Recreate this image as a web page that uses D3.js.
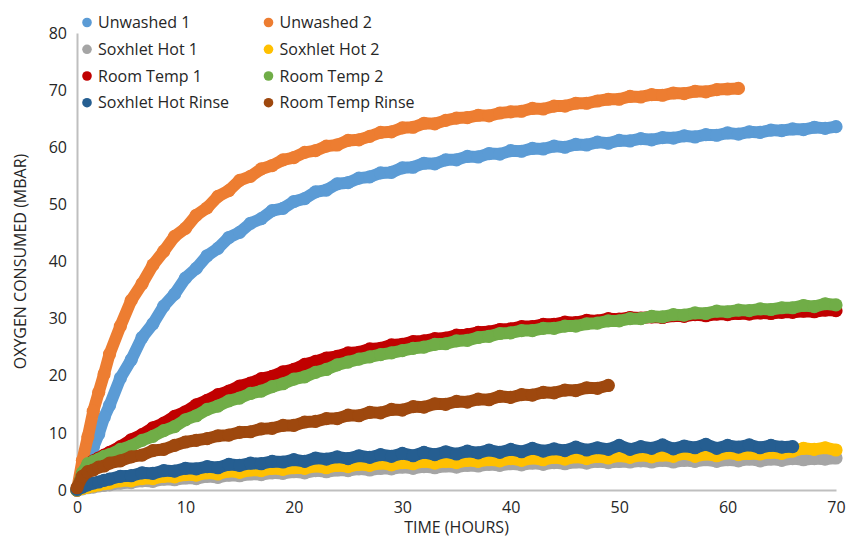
<!DOCTYPE html>
<html>
<head>
<meta charset="utf-8">
<script src="https://cdn.jsdelivr.net/npm/d3@7"></script>
<style>
  html, body { margin: 0; padding: 0; background: #fff; }
  svg { display: block; font-family: "Open Sans", "Liberation Sans", sans-serif; }
</style>
</head>
<body>
<svg id="chart" width="855" height="540"></svg>
<script>
// Elapsed time (hours) for each reading
const hours = [0, 0.5, 1, 1.5, 2, 2.5, 3,
  4, 5, 6, 7, 8, 9, 10, 11, 12, 13, 14, 15, 16, 17, 18, 19, 20,
  21, 22, 23, 24, 25, 26, 27, 28, 29, 30, 31, 32, 33, 34, 35, 36, 37,
  38, 39, 40, 41, 42, 43, 44, 45, 46, 47, 48, 49, 50, 51, 52, 53, 54,
  55, 56, 57, 58, 59, 60, 61, 62, 63, 64, 65, 66, 67, 68, 69, 70];

// Oxygen consumed (mbar), one array per sample, aligned with `hours`
const unwashed1 = [0, 2.1, 4.4, 7.5, 9.8, 12.7, 14.8,
  19.6, 22.8, 26.7, 29.1, 32.2, 34.3, 37.1, 38.8, 41.0, 42.3, 44.2, 45.1, 46.7, 47.5, 48.9, 49.3, 50.5,
  51.0, 52.2, 52.5, 53.6, 53.8, 54.6, 54.8, 55.5, 55.6, 56.4, 56.5, 57.2, 57.1, 57.8, 57.8, 58.4, 58.3,
  58.9, 58.8, 59.4, 59.3, 59.8, 59.7, 60.2, 60.0, 60.5, 60.4, 60.9, 60.7, 61.2, 61.1, 61.5, 61.3, 61.7,
  61.6, 62.0, 61.8, 62.2, 62.1, 62.5, 62.3, 62.7, 62.6, 63.0, 62.9, 63.2, 63.1, 63.5, 63.3, 63.6];

const unwashed2 = [0, 5.2, 9.3, 13.8, 17.1, 20.3, 23.8,
  28.7, 33.2, 36.1, 39.4, 41.8, 44.4, 45.8, 48.1, 49.4, 51.4, 52.4, 54.2, 54.9, 56.2, 56.8, 57.8, 58.2,
  59.1, 59.4, 60.2, 60.4, 61.2, 61.3, 61.9, 62.6, 62.7, 63.4, 63.5, 64.2, 64.1, 64.7, 65.1, 65.2, 65.6,
  65.5, 66.0, 66.2, 66.3, 66.8, 66.7, 67.2, 67.2, 67.7, 67.7, 68.1, 68.4, 68.4, 68.9, 68.8, 69.2, 69.1,
  69.5, 69.4, 69.8, 69.7, 70.1, 70.2, 70.3];

const soxhletHot1 = [0, 0.2, 0.4, 0.5, 0.7, 0.8, 0.9,
  1.2, 1.3, 1.6, 1.5, 1.9, 1.8, 2.1, 2.0, 2.4, 2.2, 2.6, 2.5, 2.8, 2.7, 3.0, 2.9, 3.2,
  3.0, 3.4, 3.2, 3.5, 3.4, 3.7, 3.5, 3.8, 3.7, 4.0, 3.8, 4.1, 3.9, 4.2, 4.0, 4.3, 4.2,
  4.5, 4.3, 4.6, 4.4, 4.7, 4.5, 4.8, 4.6, 4.9, 4.7, 5.0, 4.8, 5.0, 4.9, 5.1, 4.9, 5.2,
  4.9, 5.2, 5.0, 5.3, 5.0, 5.3, 5.1, 5.4, 5.1, 5.4, 5.2, 5.5, 5.3, 5.5, 5.4, 5.6];

const soxhletHot2 = [0, 0.3, 0.5, 0.7, 0.9, 1.1, 1.2,
  1.6, 1.6, 2.0, 2.0, 2.4, 2.3, 2.7, 2.6, 3.0, 2.8, 3.3, 3.1, 3.5, 3.4, 3.8, 3.6, 3.9,
  3.8, 4.2, 3.9, 4.3, 4.1, 4.5, 4.3, 4.7, 4.4, 4.8, 4.6, 5.0, 4.7, 5.0, 4.8, 5.2, 5.0,
  5.3, 5.1, 5.5, 5.2, 5.6, 5.3, 5.7, 5.4, 5.8, 5.5, 5.9, 5.6, 6.0, 5.7, 6.1, 5.8, 6.1,
  5.9, 6.4, 5.9, 6.3, 6.0, 6.5, 6.2, 6.4, 6.3, 6.6, 6.4, 6.8, 7.3, 7.1, 7.4, 7.0];

const roomTemp1 = [0, 2.8, 4.3, 5.1, 5.6, 6.1, 6.6,
  7.6, 8.8, 9.7, 10.9, 11.7, 12.9, 13.7, 14.9, 15.7, 16.7, 17.3, 18.2, 18.7, 19.5, 19.9, 20.7, 21.1,
  22.0, 22.5, 23.1, 23.4, 24.0, 24.1, 24.7, 24.8, 25.4, 25.5, 26.0, 26.1, 26.5, 26.6, 27.1, 27.2, 27.6,
  27.7, 28.1, 28.2, 28.6, 28.6, 29.0, 29.0, 29.4, 29.3, 29.7, 29.6, 30.0, 29.9, 30.2, 30.1, 30.3, 30.2,
  30.5, 30.4, 30.7, 30.5, 30.8, 30.7, 30.9, 30.8, 31.0, 30.9, 31.1, 31.1, 31.3, 31.2, 31.5, 31.4];

const roomTemp2 = [0, 3.0, 4.6, 5.0, 5.4, 5.9, 6.2,
  7.1, 7.7, 8.7, 9.4, 10.4, 11.1, 12.3, 13.0, 14.1, 14.7, 15.6, 16.1, 16.9, 17.3, 18.1, 18.6, 19.4,
  19.8, 20.6, 21.1, 21.9, 22.4, 22.9, 23.3, 23.7, 24.0, 24.4, 24.8, 25.0, 25.5, 25.6, 26.1, 26.2, 26.7,
  26.9, 27.4, 27.5, 27.9, 27.9, 28.3, 28.3, 28.7, 28.7, 29.1, 29.2, 29.6, 29.6, 30.0, 30.0, 30.4, 30.3,
  30.7, 30.6, 31.0, 30.9, 31.3, 31.2, 31.5, 31.4, 31.7, 31.6, 31.9, 31.9, 32.3, 32.1, 32.6, 32.4];

const soxhletHotRinse = [0.1, 0.5, 0.9, 1.2, 1.4, 1.7, 1.9,
  2.4, 2.5, 3.0, 2.9, 3.4, 3.3, 3.8, 3.7, 4.1, 3.9, 4.5, 4.3, 4.7, 4.6, 5.0, 4.9, 5.3,
  5.0, 5.6, 5.4, 5.8, 5.5, 6.0, 5.7, 6.2, 5.9, 6.4, 6.0, 6.6, 6.2, 6.7, 6.3, 6.8, 6.5,
  7.0, 6.6, 7.1, 6.7, 7.3, 6.8, 7.2, 6.9, 7.5, 7.0, 7.4, 7.1, 7.8, 7.1, 7.6, 7.3, 7.9,
  7.2, 7.7, 7.4, 8.0, 7.3, 7.8, 7.5, 7.9, 7.4, 7.8, 7.5, 7.6];

const roomTempRinse = [0.4, 2.4, 3.2, 3.5, 4.0, 4.2, 4.7,
  5.1, 5.8, 6.1, 6.9, 7.1, 7.8, 8.4, 8.7, 9.0, 9.5, 9.6, 10.1, 10.2, 10.7, 10.8, 11.3, 11.3,
  11.9, 12.0, 12.5, 12.5, 13.1, 13.0, 13.6, 13.5, 14.1, 14.0, 14.6, 14.5, 15.1, 15.0, 15.5, 15.4, 15.9,
  15.8, 16.4, 16.2, 16.7, 16.6, 17.1, 17.0, 17.5, 17.4, 17.9, 17.8, 18.3];

const seriesNames = ["Unwashed 1", "Unwashed 2", "Soxhlet Hot 1", "Soxhlet Hot 2",
  "Room Temp 1", "Room Temp 2", "Soxhlet Hot Rinse", "Room Temp Rinse"];
const seriesValues = [unwashed1, unwashed2, soxhletHot1, soxhletHot2,
  roomTemp1, roomTemp2, soxhletHotRinse, roomTempRinse];
const seriesColors = ["#5B9BD5", "#ED7D31", "#A5A5A5", "#FFC000",
  "#C00000", "#70AD47", "#255E91", "#9E480E"];

const xTicks = [0, 10, 20, 30, 40, 50, 60, 70];
const yTicks = [0, 10, 20, 30, 40, 50, 60, 70, 80];
const xTitle = "TIME (HOURS)";
const yTitle = "OXYGEN CONSUMED (MBAR)";

const svg = d3.select("#chart");
const plot = { left: 77, right: 836, top: 33, bottom: 490 };

const x = d3.scaleLinear().domain([0, 70]).range([plot.left, plot.right]);
const y = d3.scaleLinear().domain([0, 80]).range([plot.bottom, plot.top]);

const axisColor = "#BFBFBF";
const textColor = "#262626";

// Axes: plain grey lines with labels, no tick marks
const gx = svg.append("g")
  .attr("transform", `translate(0,${plot.bottom})`)
  .call(d3.axisBottom(x).tickValues(xTicks).tickSize(0).tickPadding(12).tickFormat(d3.format("d")));
const gy = svg.append("g")
  .attr("transform", `translate(${plot.left},0)`)
  .call(d3.axisLeft(y).tickValues(yTicks).tickSize(0).tickPadding(10).tickFormat(d3.format("d")));

[gx, gy].forEach(g => {
  g.select(".domain").attr("stroke", axisColor).attr("stroke-width", 2);
  g.selectAll(".tick text")
    .attr("fill", textColor)
    .style("font-size", "16px")
    .style("font-family", "'Open Sans', 'Liberation Sans', sans-serif");
});

// Series: a thick line with dot markers on every reading
const line = d3.line().x(d => x(d[0])).y(d => y(d[1]));
const seriesG = svg.append("g");
seriesValues.forEach((vals, i) => {
  const pts = vals.map((v, j) => [hours[j], v]);
  const g = seriesG.append("g");
  g.append("path")
    .attr("d", line(pts))
    .attr("fill", "none")
    .attr("stroke", seriesColors[i])
    .attr("stroke-width", 12)
    .attr("stroke-linejoin", "round")
    .attr("stroke-linecap", "round");
  g.selectAll("circle")
    .data(pts)
    .join("circle")
    .attr("cx", d => x(d[0]))
    .attr("cy", d => y(d[1]))
    .attr("r", 6.6)
    .attr("fill", seriesColors[i]);
});

// Legend: two columns, four rows
const legend = svg.append("g");
const legendCols = [87, 268.5];
const legendRows = [22.5, 49.3, 76, 102.7];
seriesNames.forEach((name, i) => {
  const cx = legendCols[i % 2];
  const cy = legendRows[Math.floor(i / 2)];
  legend.append("circle").attr("cx", cx).attr("cy", cy).attr("r", 4.8).attr("fill", seriesColors[i]);
  legend.append("text")
    .attr("x", cx + 11)
    .attr("y", cy)
    .attr("dy", "0.36em")
    .attr("fill", textColor)
    .style("font-size", "16px")
    .text(name);
});

// Axis titles
svg.append("text")
  .attr("x", (plot.left + plot.right) / 2)
  .attr("y", 533)
  .attr("text-anchor", "middle")
  .attr("fill", textColor)
  .style("font-size", "16px")
  .text(xTitle);
svg.append("text")
  .attr("transform", `translate(26,${(plot.top + plot.bottom) / 2}) rotate(-90)`)
  .attr("text-anchor", "middle")
  .attr("fill", textColor)
  .style("font-size", "16px")
  .text(yTitle);
</script>
</body>
</html>
